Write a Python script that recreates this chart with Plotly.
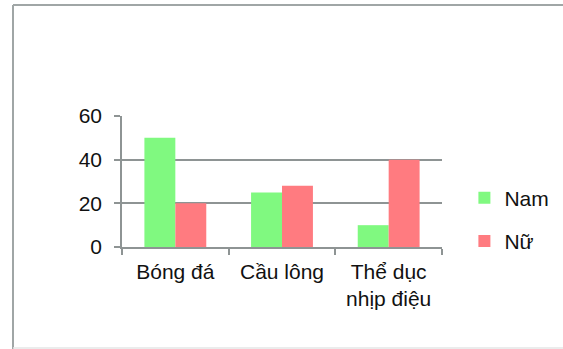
import plotly.graph_objects as go

categories = ["Bóng đá", "Cầu lông", "Thể dục<br>nhịp điệu"]
nam = [50, 25, 10]
nu = [20, 28, 40]
y_ticks = [0, 20, 40, 60]

FONT = "Liberation Sans, Arial, Helvetica, sans-serif"
GRID = "#8e9494"

fig = go.Figure()
fig.add_trace(go.Bar(name="Nam", x=categories, y=nam, marker_color="#80F980",
                     marker_line_width=0, legendgroup="a"))
fig.add_trace(go.Bar(name="Nữ", x=categories, y=nu, marker_color="#FF7B80",
                     marker_line_width=0, legendgroup="b"))

fig.update_layout(
    width=563, height=349,
    margin=dict(l=122, r=121, t=116, b=102, autoexpand=False),
    paper_bgcolor="white", plot_bgcolor="white",
    barmode="group", bargap=0.42, bargroupgap=0,
    font=dict(family=FONT, size=21, color="#111111"),
    showlegend=True,
    legend=dict(x=1.07, y=0.53, xanchor="left", yanchor="top",
                font=dict(size=21), tracegroupgap=13, itemwidth=30,
                bgcolor="rgba(0,0,0,0)"),
    xaxis=dict(showline=True, linecolor=GRID, linewidth=1.5,
               ticks="outside", tickson="boundaries", ticklen=6,
               tickcolor=GRID, tickwidth=1.5, showgrid=False,
               ticklabelstandoff=5, tickfont=dict(size=21)),
    yaxis=dict(range=[0, 60], tickvals=y_ticks, showline=True,
               linecolor=GRID, linewidth=1.5, ticks="outside", ticklen=6,
               tickcolor=GRID, tickwidth=1.5, showgrid=True,
               gridcolor=GRID, gridwidth=1.5, zeroline=False,
               ticklabelstandoff=8, tickfont=dict(size=21)),
    shapes=[
        dict(type="line", xref="paper", yref="paper",
             x0=(13 - 122) / 320, x1=(13 - 122) / 320,
             y0=(247 - 5) / 131, y1=(247 - 352) / 131,
             line=dict(color="#a0a6a6", width=2)),
        dict(type="line", xref="paper", yref="paper",
             x0=(13 - 122) / 320, x1=(570 - 122) / 320,
             y0=(247 - 5) / 131, y1=(247 - 5) / 131,
             line=dict(color="#a0a6a6", width=2)),
        dict(type="line", xref="paper", yref="paper",
             x0=(13 - 122) / 320, x1=(570 - 122) / 320,
             y0=(247 - 348) / 131, y1=(247 - 348) / 131,
             line=dict(color="#e4e6e6", width=1.5)),
    ],
)

fig.write_html("out.html", config={"displayModeBar": False},
               post_script="document.body.style.margin='0';document.body.style.overflow='hidden';")
